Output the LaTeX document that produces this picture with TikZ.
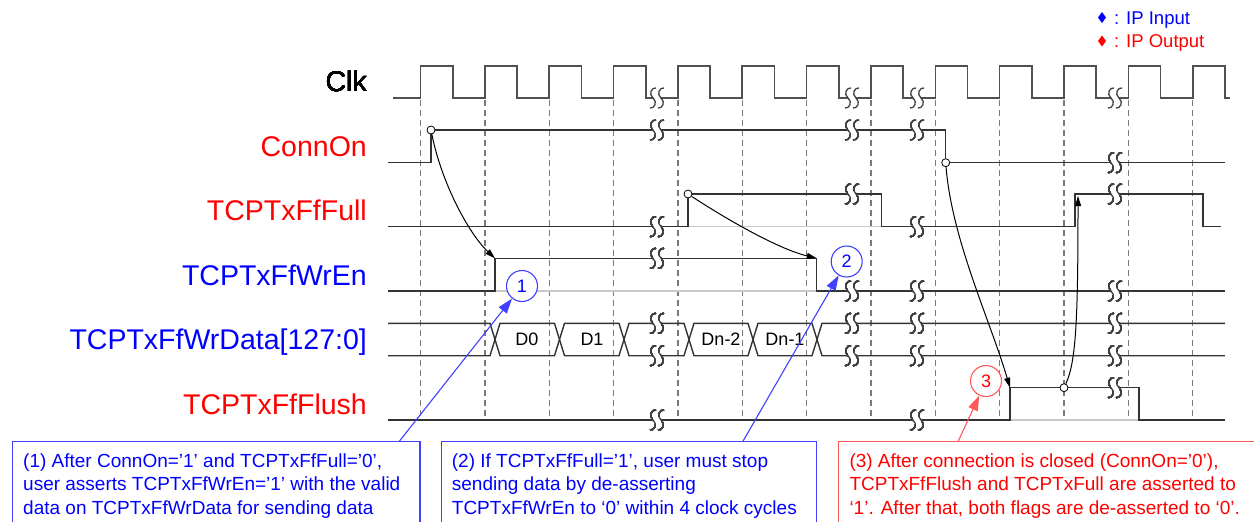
\documentclass[tikz,border=0pt]{standalone}
\usepackage{fontspec}
\setmainfont{Liberation Sans}
\usetikzlibrary{arrows.meta}
\definecolor{wave}{HTML}{333333}
\definecolor{clkc}{HTML}{505050}
\definecolor{dashc}{HTML}{7A7A7A}
\definecolor{lgrey}{HTML}{C8C8C8}
\definecolor{ipblue}{HTML}{0000FF}
\definecolor{ipred}{HTML}{FF0000}
\definecolor{bblue}{HTML}{4040FF}
\definecolor{bred}{HTML}{FF5A5A}
\tikzset{
  wv/.style={draw=wave, line width=1.4pt},
  clkw/.style={draw=clkc, line width=1.6pt},
  dsh/.style={draw=dashc, line width=1.4pt, dash pattern=on 6pt off 4pt},
  lgl/.style={draw=lgrey, line width=1.4pt},
  brkline/.style={draw=black!75, line width=1.3pt},
  mk/.style={circle, draw=black, fill=white, inner sep=0pt, minimum size=8pt, line width=0.8pt},
  carrow/.style={draw=black, line width=1pt, -{Triangle[length=10pt,width=6pt]}},
  barrow/.style={draw=bblue, line width=1.1pt, -{Triangle[length=15pt,width=10pt]}},
  rarrow/.style={draw=bred, line width=1.1pt, -{Triangle[length=15pt,width=10pt]}},
  numc/.style={circle, fill=white, line width=1.1pt, inner sep=0pt, minimum size=31pt, font=\fontsize{18}{20}\selectfont},
  sig/.style={anchor=base east, inner sep=0pt, font=\fontsize{28.5}{30}\selectfont},
  dlab/.style={inner sep=0pt, font=\fontsize{18}{20}\selectfont, text=black},
  btxt/.style={anchor=base west, inner sep=0pt, font=\fontsize{19}{23}\selectfont},
  legt/.style={anchor=base west, inner sep=0pt, font=\fontsize{18.5}{20}\selectfont},
  boxb/.style={draw=bblue, line width=1.2pt},
  boxr/.style={draw=bred, line width=1.2pt},
}
\newcommand\wbrk[2]{%
  \fill[white] ({#1-4},{#2-3.5}) rectangle ({#1+4},{#2+3.5});
  \draw[brkline] ({#1-1},{#2-10}) .. controls ({#1-5},{#2-11}) and ({#1-9},{#2-4}) .. ({#1-4},{#2}) .. controls ({#1+1},{#2+4}) and ({#1-3},{#2+11}) .. ({#1-7},{#2+10});
  \draw[brkline] ({#1+7},{#2-10}) .. controls ({#1+3},{#2-11}) and ({#1-1},{#2-4}) .. ({#1+4},{#2}) .. controls ({#1+9},{#2+4}) and ({#1+5},{#2+11}) .. ({#1+1},{#2+10});
}
\begin{document}
\begin{tikzpicture}[x=1pt,y=-1pt]
\useasboundingbox (0,0) rectangle (1254,522);
\clip (0,0) rectangle (1254,522);
% dashed clock grid
\foreach \i in {0,...,12} \draw[dsh] ({420.5+64.35*\i},100) -- ({420.5+64.35*\i},420);
% clock
\draw[clkw] (393,98) \foreach \i in {0,...,12} { -- ({420.5+64.35*\i},98) -- ({420.5+64.35*\i},66) -- ({452.7+64.35*\i},66) -- ({452.7+64.35*\i},98) } -- (1230,98);
% light grey baselines
\draw[lgl] (688,226.7) -- (881.7,226.7);
\draw[lgl] (495,291) -- (816.7,291);
\draw[lgl] (1010,420) -- (1139,420);
% ConnOn
\draw[wv] (388,162.7) -- (431,162.7) -- (431,130) -- (945.7,130) -- (945.7,162.7) -- (1225,162.7);
% TCPTxFfFull
\draw[wv] (388,226.7) -- (688,226.7) -- (688,194) -- (881.7,194) -- (881.7,226.7) -- (1075,226.7) -- (1075,194) -- (1203,194) -- (1203,226.7) -- (1221,226.7);
% TCPTxFfWrEn
\draw[wv] (388,291) -- (495,291) -- (495,258.3) -- (816.7,258.3) -- (816.7,291) -- (1225,291);
% TCPTxFfWrData
\draw[wv] (388,323.3) -- (490,323.3) -- (500,355.7) -- (554.5,355.7) -- (564.5,323.3) -- (619,323.3) -- (629,355.7) -- (684,355.7) -- (694,323.3) -- (748,323.3) -- (758,355.7) -- (812,355.7) -- (822,323.3) -- (1225,323.3);
\draw[wv] (388,355.7) -- (490,355.7) -- (500,323.3) -- (554.5,323.3) -- (564.5,355.7) -- (619,355.7) -- (629,323.3) -- (684,323.3) -- (694,355.7) -- (748,355.7) -- (758,323.3) -- (812,323.3) -- (822,355.7) -- (1225,355.7);
\node[dlab] (d0) at (527,339.5) {D0};
\node[dlab] (d1) at (592,339.5) {D1};
\node[dlab] (dn2) at (721,339.5) {Dn-2};
\node[dlab] (dn1) at (785,339.5) {Dn-1};
% TCPTxFfFlush
\draw[wv] (388,420) -- (1010,420) -- (1010,387.7) -- (1139,387.7) -- (1139,420) -- (1225,420);
% breaks
\foreach \x in {657,852,917,1115} \wbrk{\x}{98}
\foreach \x in {657,852,917} \wbrk{\x}{130}
\wbrk{1115}{162.7}
\wbrk{657}{226.7} \wbrk{852}{194} \wbrk{917}{226.7} \wbrk{1115}{194}
\wbrk{657}{258.3} \wbrk{852}{291} \wbrk{917}{291} \wbrk{1115}{291}
\foreach \x in {657,852,917,1115} {\wbrk{\x}{323.3} \wbrk{\x}{355.7}}
\wbrk{657}{420} \wbrk{917}{420} \wbrk{1115}{387.7}
% signal names
\node[sig, text=black] (lclk) at (367,91) {Clk};
\node[sig, text=ipred] (lon) at (367,156) {ConnOn};
\node[sig, text=ipred] (lfull) at (367,220) {TCPTxFfFull};
\node[sig, text=ipblue] (lwren) at (367,285) {TCPTxFfWrEn};
\node[sig, text=ipblue] (ldata) at (367,349.5) {TCPTxFfWrData[127:0]};
\node[sig, text=ipred] (lflush) at (367,414) {TCPTxFfFlush};
% causal arrows
\coordinate (pWrUp) at (495,258.3);
\coordinate (pWrDn) at (816.7,258.3);
\coordinate (pFlUp) at (1010,387.7);
\coordinate (pFullUp) at (1078,196);
\node[mk] (mOn) at (431,130) {};
\node[mk] (mFull) at (688,194) {};
\node[mk] (mOff) at (945.7,162.7) {};
\node[mk] (mFl) at (1064,387.7) {};
\draw[carrow] (mOn) .. controls (442,185) and (470,235) .. (pWrUp);
\draw[carrow] (mFull) .. controls (720,215) and (775,248) .. (pWrDn);
\draw[carrow] (mOff) .. controls (952,240) and (990,320) .. (pFlUp);
\draw[carrow] (mFl) .. controls (1076,362) and (1078,320) .. (pFullUp);
% numbered circles
\node[numc, draw=bblue, text=ipblue] (c1) at (522,286) {1};
\node[numc, draw=bblue, text=ipblue] (c2) at (846.7,261.5) {2};
\node[numc, draw=bred, text=ipred] (c3) at (986,381) {3};
% boxes
\draw[boxb] (12.7,441.7) rectangle (420,540);
\draw[boxb] (441.7,441.7) rectangle (816.7,540);
\draw[boxr] (838.3,441.7) rectangle (1270,540);
\coordinate (b1a) at (399,441.7);
\coordinate (b2a) at (742.7,441.7);
\coordinate (b3a) at (958,441.7);
\draw[barrow] (b1a) -- (c1);
\draw[barrow] (b2a) -- (c2);
\draw[rarrow] (b3a) -- (c3);
\node[btxt, text=ipblue] (t11) at (23,467) {(1) After ConnOn=’1’ and TCPTxFfFull=’0’,};
\node[btxt, text=ipblue] (t12) at (23,490.5) {user asserts TCPTxFfWrEn=’1’ with the valid};
\node[btxt, text=ipblue] (t13) at (23,514) {data on TCPTxFfWrData for sending data};
\node[btxt, text=ipblue] (t21) at (451.7,467) {(2) If TCPTxFfFull=’1’, user must stop};
\node[btxt, text=ipblue] (t22) at (451.7,490.5) {sending data by de-asserting};
\node[btxt, text=ipblue] (t23) at (451.7,514) {TCPTxFfWrEn to ‘0’ within 4 clock cycles};
\node[btxt, text=ipred] (t31) at (849.3,467) {(3) After connection is closed (ConnOn=’0’),};
\node[btxt, text=ipred] (t32) at (849.3,490.5) {TCPTxFfFlush and TCPTxFull are asserted to};
\node[btxt, text=ipred] (t33) at (849.3,514) {‘1’. After that, both flags are de-asserted to ‘0’.};
% legend
\fill[ipblue] (1102,12) -- (1106,17.5) -- (1102,23) -- (1098,17.5) -- cycle;
\fill[ipred] (1102,35.5) -- (1106,41) -- (1102,46.5) -- (1098,41) -- cycle;
\node[legt, text=ipblue] (lg1) at (1114,24) {: IP Input};
\node[legt, text=ipred] (lg2) at (1114,47) {: IP Output};
\end{tikzpicture}
\end{document}
